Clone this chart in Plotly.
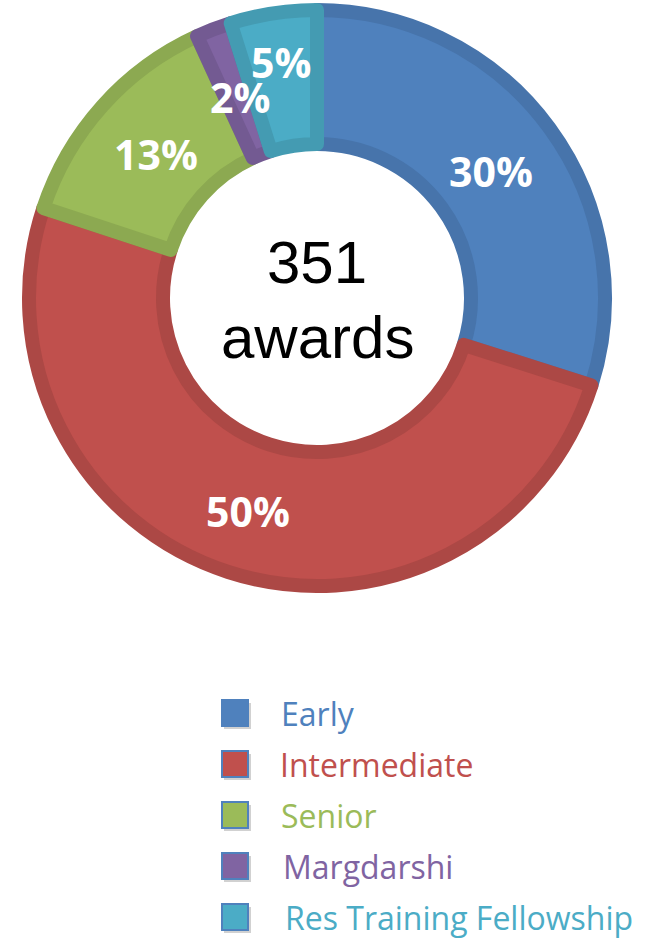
import math
import plotly.graph_objects as go

# Award counts by category (351 in total)
categories = ["Early", "Intermediate", "Senior", "Margdarshi", "Res Training Fellowship"]
awards = [105, 176, 46, 7, 17]
total_label = ["351", "awards"]

fill_colors = ["#4F81BD", "#C0504D", "#9BBB59", "#8064A2", "#4BACC6"]
edge_colors = ["#4774AB", "#AC4845", "#8CA951", "#735A92", "#449BB2"]

W, H = 648, 938
CX, CY = 317, 298          # pie centre, px from top-left
EDGE = 14                  # slice outline width (half of it falls outside the path)
R_OUT = 295 - EDGE / 2     # path radius so the visible rim sits at 295px
R_IN = 147 + EDGE / 2      # path radius of the hole
# label distance from centre as a fraction of the visible outer radius
label_r = [0.73, 0.76, 0.73, 0.73, 0.81]

fig = go.Figure()

fig.add_trace(go.Pie(
    labels=categories,
    values=awards,
    sort=False,
    direction="clockwise",
    rotation=0,
    hole=R_IN / R_OUT,
    textinfo="none",
    marker=dict(colors=fill_colors, line=dict(color=edge_colors, width=EDGE)),
    domain=dict(x=[(CX - R_OUT) / W, (CX + R_OUT) / W],
                y=[1 - (CY + R_OUT) / H, 1 - (CY - R_OUT) / H]),
    showlegend=False,
    hovertemplate="%{label}: %{value} (%{percent})<extra></extra>",
))

# percentage labels at the middle angle of each slice
total = sum(awards)
cum = 0
for i, v in enumerate(awards):
    mid = (cum + v / 2) / total * 2 * math.pi
    cum += v
    r = label_r[i] * 295
    px = CX + r * math.sin(mid)
    py = CY - r * math.cos(mid)
    fig.add_annotation(x=px / W, y=1 - py / H, xref="paper", yref="paper",
                       xanchor="center", yanchor="middle",
                       text=f"{round(100 * v / total)}%", showarrow=False,
                       font=dict(family="Open Sans", size=41, color="white", weight="bold"))

# centre label
fig.add_annotation(x=CX / W, y=1 - 262 / H, xref="paper", yref="paper",
                   text=total_label[0], showarrow=False,
                   xanchor="center", yanchor="middle",
                   font=dict(family="Liberation Sans", size=60, color="black"))
fig.add_annotation(x=CX / W, y=1 - 337 / H, xref="paper", yref="paper",
                   text=total_label[1], showarrow=False,
                   xanchor="center", yanchor="middle",
                   font=dict(family="Liberation Sans", size=60, color="black"))

# hand-made legend: coloured squares with shadow, text in series colour
legend_top = 713
legend_step = 51
text_x = [279, 278, 279, 281, 283]
for i, (name, col) in enumerate(zip(categories, fill_colors)):
    cy = legend_top + i * legend_step
    fig.add_shape(type="rect", xref="paper", yref="paper",
                  x0=224 / W, x1=251 / W, y0=1 - (cy + 16) / H, y1=1 - (cy - 10) / H,
                  fillcolor="rgba(0,0,0,0.18)", line=dict(width=0), layer="below")
    fig.add_shape(type="rect", xref="paper", yref="paper",
                  x0=222 / W, x1=248 / W, y0=1 - (cy + 13) / H, y1=1 - (cy - 13) / H,
                  fillcolor=col, line=dict(color="#4F81BD", width=2))
    fig.add_annotation(x=text_x[i] / W, y=1 - cy / H, xref="paper", yref="paper",
                       xanchor="left", yanchor="middle", text=name, showarrow=False,
                       font=dict(family="Open Sans", size=32, color=col))

fig.update_layout(
    width=W,
    height=H,
    margin=dict(l=0, r=0, t=0, b=0),
    paper_bgcolor="white",
    plot_bgcolor="white",
)

fig.write_html("out.html", config={"displayModeBar": False},
               post_script="document.body.style.margin='0';")
